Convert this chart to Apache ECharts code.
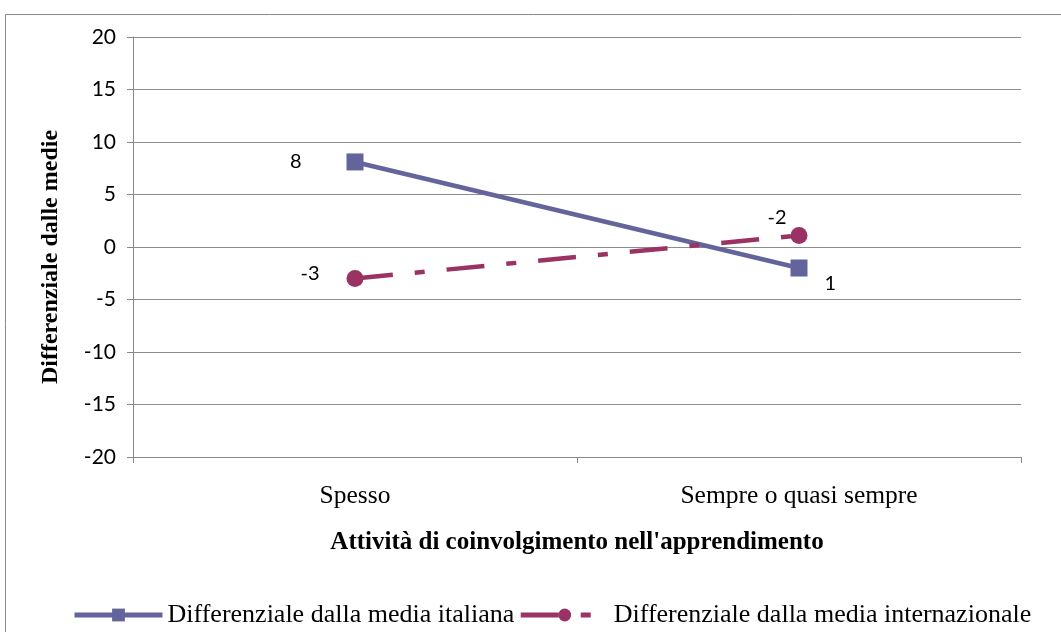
<!DOCTYPE html>
<html><head><meta charset="utf-8">
<script src="https://cdn.jsdelivr.net/npm/echarts@6/dist/echarts.min.js"></script>
<style>html,body{margin:0;padding:0;background:#fff}#c{width:1061px;height:632px}</style>
</head><body><div id="c"></div>
<script>
var categories = ['Spesso', 'Sempre o quasi sempre'];
var seriesNames = ['Differenziale dalla media italiana', 'Differenziale dalla media internazionale'];
var italianValues = [8.1, -2.0];
var internationalValues = [-3.0, 1.1];
var italianLabels = ['8', '1'];
var internationalLabels = ['-3', '-2'];
var yTicks = { min: -20, max: 20, interval: 5 };

var chart = echarts.init(document.getElementById('c'), null, { renderer: 'canvas' });
var serif = 'Liberation Serif';
var sans = 'Lato';
var c1 = '#64649C', c2 = '#9A3264';

function mkData(vals, labels, pos, offs) {
  return vals.map(function (v, i) {
    return { value: v, label: { formatter: labels[i], position: pos[i], offset: offs[i] } };
  });
}

chart.setOption({
  animation: false,
  textStyle: { fontFamily: serif },
  graphic: [{ type: 'rect', shape: { x: 5.5, y: 14.5, width: 1080, height: 640 }, style: { fill: 'none', stroke: '#8a8a8a', lineWidth: 1 }, z: -1 }],
  grid: { left: 133, right: 40, top: 37, bottom: 175 },
  legend: {
    bottom: -1, left: 67, itemWidth: 88, itemHeight: 16, itemGap: 4,
    textStyle: { fontFamily: serif, fontSize: 26, color: '#000' },
    lineStyle: { width: 5 },
    data: seriesNames
  },
  xAxis: {
    type: 'category', data: categories, boundaryGap: true,
    name: "Attività di coinvolgimento nell'apprendimento", nameLocation: 'middle', nameGap: 73,
    nameTextStyle: { fontFamily: serif, fontSize: 25, fontWeight: 'bold', color: '#000' },
    axisLine: { onZero: false, lineStyle: { color: '#888', width: 1 } },
    axisTick: { show: true, length: 6, lineStyle: { color: '#888' } },
    axisLabel: { fontFamily: serif, fontSize: 25.5, color: '#000', margin: 26 }
  },
  yAxis: {
    type: 'value', min: yTicks.min, max: yTicks.max, interval: yTicks.interval,
    name: 'Differenziale dalle medie', nameLocation: 'middle', nameGap: 70,
    nameTextStyle: { fontFamily: serif, fontSize: 24, fontWeight: 'bold', color: '#000', padding: [0, 20, 0, 0] },
    axisLine: { show: true, lineStyle: { color: '#888', width: 1 } },
    axisTick: { show: true, length: 6, lineStyle: { color: '#888' } },
    axisLabel: { fontFamily: sans, fontSize: 21, color: '#000', margin: 17 },
    splitLine: { lineStyle: { color: '#8c8c8c', width: 1 } }
  },
  series: [
    {
      name: seriesNames[0], type: 'line', symbol: 'rect', symbolSize: 17,
      lineStyle: { color: c1, width: 4.5 }, itemStyle: { color: c1 },
      label: { show: true, fontFamily: sans, fontSize: 20, color: '#000' },
      data: mkData(italianValues, italianLabels, ['left', 'right'], [[-40, 0], [12, 16]])
    },
    {
      name: seriesNames[1], type: 'line', symbol: 'circle', symbolSize: 17,
      lineStyle: { color: c2, width: 4.5, type: [38, 22, 10, 22] }, itemStyle: { color: c2 },
      label: { show: true, fontFamily: sans, fontSize: 20, color: '#000' },
      data: mkData(internationalValues, internationalLabels, ['left', 'top'], [[-22, -5], [-22, 6]])
    }
  ]
});
</script></body></html>
